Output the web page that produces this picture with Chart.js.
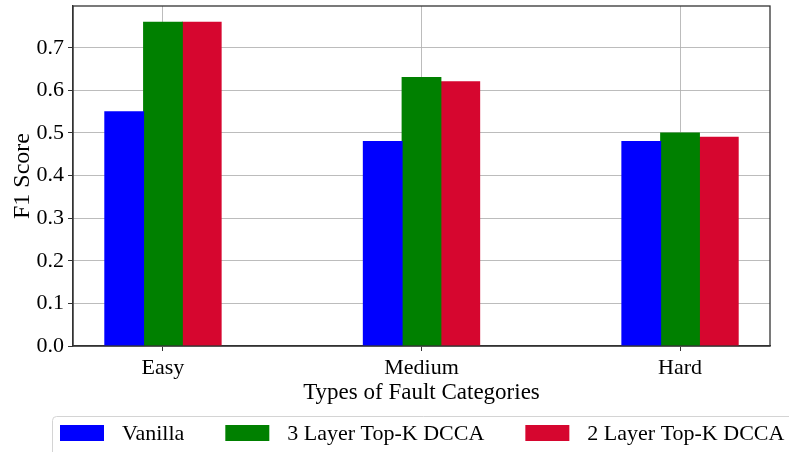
<!DOCTYPE html>
<html>
<head>
<meta charset="utf-8">
<script src="https://cdn.jsdelivr.net/npm/chart.js@4/dist/chart.umd.min.js"></script>
<style>
  html, body { margin: 0; padding: 0; background: #fff; }
  #wrap { width: 789px; height: 452px; position: relative; }
</style>
</head>
<body>
<div id="wrap"><canvas id="c" width="789" height="452"></canvas></div>
<script>
const categories = ['Easy', 'Medium', 'Hard'];
const seriesNames = ['Vanilla', '3 Layer Top-K DCCA', '2 Layer Top-K DCCA'];
const vanilla = [0.55, 0.48, 0.48];
const layer3 = [0.76, 0.63, 0.50];
const layer2 = [0.76, 0.62, 0.49];
const yTicks = [0.0, 0.1, 0.2, 0.3, 0.4, 0.5, 0.6, 0.7];
const colors = ['#0000ff', '#008000', '#d6062f'];

const FONT = "'Liberation Serif', 'Times New Roman', serif";
const seriesValues = [vanilla, layer3, layer2];

const datasets = seriesValues.map((vals, si) => ({
  label: seriesNames[si],
  data: vals.map((v, i) => ({ x: i, y: v })),
  backgroundColor: colors[si],
  borderWidth: 0,
  inflateAmount: 0.5,
  categoryPercentage: 0.45,
  barPercentage: 1.0
}));

const framePlugin = {
  id: 'frame',
  afterDraw(chart) {
    const { ctx, chartArea: a } = chart;
    ctx.save();
    ctx.strokeStyle = '#333';
    ctx.lineWidth = 1.3;
    ctx.strokeRect(a.left, a.top, a.right - a.left, a.bottom - a.top);
    ctx.restore();
  }
};

const legendPlugin = {
  id: 'customLegend',
  afterDraw(chart) {
    const ctx = chart.ctx;
    ctx.save();
    const bx = 52.5, by = 416.5, bw = 760, bh = 50, r = 4;
    ctx.beginPath();
    ctx.moveTo(bx + r, by);
    ctx.lineTo(bx + bw - r, by);
    ctx.quadraticCurveTo(bx + bw, by, bx + bw, by + r);
    ctx.lineTo(bx + bw, by + bh);
    ctx.lineTo(bx, by + bh);
    ctx.lineTo(bx, by + r);
    ctx.quadraticCurveTo(bx, by, bx + r, by);
    ctx.closePath();
    ctx.fillStyle = '#fff';
    ctx.fill();
    ctx.strokeStyle = '#d4d4d4';
    ctx.lineWidth = 1;
    ctx.stroke();
    ctx.font = '22px ' + FONT;
    ctx.textBaseline = 'middle';
    ctx.textAlign = 'left';
    let x = 60;
    chart.data.datasets.forEach((ds) => {
      ctx.fillStyle = ds.backgroundColor;
      ctx.fillRect(x, 425, 44, 16);
      ctx.fillStyle = '#000';
      const tx = x + 62;
      ctx.fillText(ds.label, tx, 434);
      x = tx + ctx.measureText(ds.label).width + 41;
    });
    ctx.restore();
  }
};

new Chart(document.getElementById('c'), {
  type: 'bar',
  data: { datasets },
  options: {
    responsive: false,
    animation: false,
    devicePixelRatio: 1,
    layout: { padding: { top: 6, right: 19, left: 0, bottom: 0 } },
    plugins: {
      legend: { display: false },
      tooltip: { enabled: false }
    },
    scales: {
      x: {
        type: 'linear',
        min: -0.348,
        max: 2.348,
        offset: false,
        z: 1,
        afterBuildTicks(scale) {
          scale.ticks = categories.map((c, i) => ({ value: i }));
        },
        afterFit(scale) {
          scale.height = 106;
          scale.paddingLeft = 0;
          scale.paddingRight = 0;
        },
        ticks: {
          callback: (v) => categories[v],
          font: { family: FONT, size: 22 },
          color: '#000',
          padding: 4,
          maxRotation: 0,
          autoSkip: false
        },
        grid: {
          offset: false,
          color: 'rgba(176,176,176,0.85)',
          lineWidth: 1,
          drawTicks: true,
          tickLength: 5,
          tickColor: '#333'
        },
        border: { display: true, color: '#333', width: 1.3 },
        title: {
          display: true,
          text: 'Types of Fault Categories',
          font: { family: FONT, size: 23 },
          color: '#000',
          padding: { top: 0, bottom: 45 }
        }
      },
      y: {
        min: 0,
        max: 0.798,
        z: 1,
        afterBuildTicks(scale) {
          scale.ticks = yTicks.map(v => ({ value: v }));
        },
        afterFit(scale) {
          scale.width = 73;
          scale.paddingTop = 0;
          scale.paddingBottom = 0;
        },
        ticks: {
          callback: (v) => Number(v).toFixed(1),
          font: { family: FONT, size: 22 },
          color: '#000',
          padding: 4
        },
        grid: {
          color: 'rgba(176,176,176,0.85)',
          lineWidth: 1,
          drawTicks: true,
          tickLength: 5,
          tickColor: '#333'
        },
        border: { display: true, color: '#333', width: 1.3 },
        title: {
          display: true,
          text: 'F1 Score',
          font: { family: FONT, size: 24 },
          color: '#000',
          padding: { top: 8, bottom: 0 }
        }
      }
    }
  },
  plugins: [framePlugin, legendPlugin]
});
</script>
</body>
</html>
